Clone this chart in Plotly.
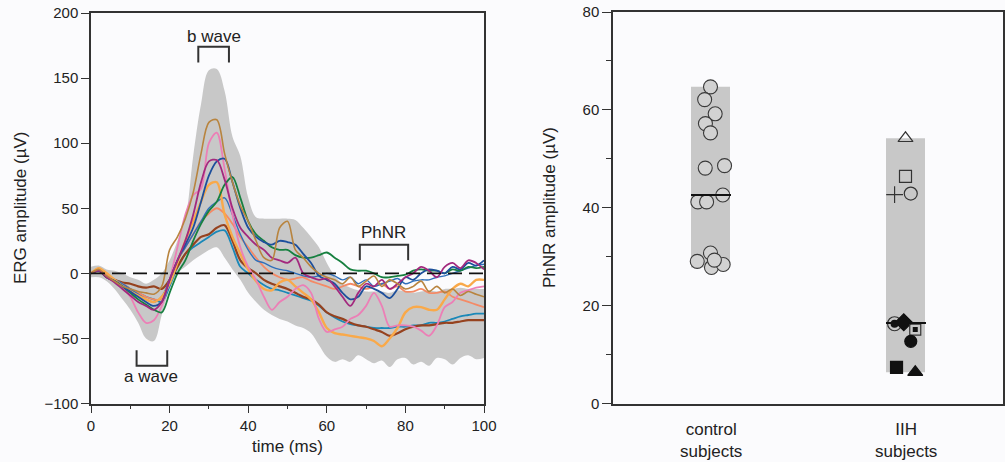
import numpy as np
import plotly.graph_objects as go

# ---------------- data ----------------
time_ms = list(range(0, 101, 2))

band_upper = [5, 6, 3, 2, 0, -3, -5, -8, -5, 0, 10, 25, 42, 90, 130, 156, 157, 140, 105, 90,
              58, 43, 42, 42, 42, 42, 41, 35, 28, 20, 8, -2, -8, -11, -13, -14, -14, -14, -15, -13,
              -14, -15, -14, -13, -14, -12, -12, -11, -12, -12, -12]
band_lower = [-3, -3, -6, -12, -20, -28, -38, -50, -52, -32, -12, 0, 5, 10, 14, 18, 20, 12, 3, -5,
              -15, -22, -28, -32, -35, -37, -40, -42, -46, -55, -64, -68, -66, -68, -63, -66, -69, -67, -72, -66,
              -65, -70, -68, -71, -65, -66, -70, -65, -63, -66, -65]

erg_tan = [0, 3, -2, -6, -10, -12, -14, -15, -16, -10, 18, 28, 42, 62, 92, 116, 118, 92, 70, 52,
           40, 25, 12, 10, 35, 40, 18, 12, 5, 0, -3, -5, -8, -3, -10, -6, -2, -10, -5, -8,
           -12, -10, -6, -14, -10, -15, -12, -17, -14, -16, -18]
erg_pink = [0, 2, -2, -6, -10, -18, -30, -38, -36, -25, -5, 20, 45, 60, 65, 100, 108, 80, 45, 20,
            5, -5, -18, -28, -22, -18, -12, -9, -15, -35, -45, -43, -41, -35, -32, -25, -15, -25, -41, -40,
            -40, -41, -44, -48, -40, -26, -22, -15, -13, -11, -10]
erg_magenta = [0, 2, -3, -7, -12, -17, -22, -25, -28, -22, -5, 10, 25, 45, 70, 86, 87, 72, 50, 35,
               28, 22, 18, 12, 10, 8, 12, 0, -3, -5, -4, -10, -18, -25, -15, -8, -10, -5, -12, -8,
               -3, 0, 5, 2, -3, 5, 8, 4, 10, 8, 3]
erg_darkblue = [0, 2, -3, -6, -10, -14, -18, -22, -25, -22, -5, 10, 22, 35, 55, 75, 86, 88, 70, 50,
                35, 28, 24, 22, 25, 24, 22, 15, 8, -2, -5, -8, -15, -20, -18, -10, -12, -15, -19, -12,
                -3, -5, 0, 3, 2, 0, 5, 3, 8, 6, 10]
erg_green = [0, 2, -3, -6, -10, -15, -20, -24, -28, -30, -15, 0, 10, 25, 38, 48, 55, 68, 74, 58,
             40, 30, 25, 20, 18, 18, 14, 12, 12, 14, 16, 12, 8, 3, 2, 2, 0, -3, -3, -2,
             -1, 2, 3, 2, 2, 0, 3, 2, 5, 4, 5]
erg_orange = [0, 4, 0, -5, -10, -14, -17, -20, -22, -18, -8, 8, 25, 40, 55, 68, 70, 45, 28, 15,
              3, -6, -12, -13, -7, -5, -10, -15, -20, -30, -42, -46, -47, -48, -49, -50, -52, -56, -50, -42,
              -30, -26, -26, -28, -28, -20, -12, -8, -10, -5, -5]
erg_salmon = [0, 3, -1, -5, -8, -12, -15, -18, -20, -20, -5, 10, 20, 30, 40, 46, 50, 46, 38, 28,
              20, 12, 5, 0, -3, -5, -4, -3, -6, -8, -10, -12, -10, -8, -10, -12, -10, -8, -12, -10,
              -14, -14, -12, -15, -15, -14, -18, -20, -22, -24, -26]
erg_brown = [0, 2, -3, -5, -7, -8, -10, -11, -10, -12, -5, 5, 15, 22, 28, 30, 35, 37, 25, 10,
             4, 0, -5, -8, -10, -12, -15, -18, -20, -24, -30, -33, -35, -38, -40, -41, -43, -45, -48, -46,
             -43, -41, -40, -40, -39, -38, -38, -37, -36, -36, -36]
erg_teal = [0, 2, -2, -5, -8, -12, -15, -18, -20, -22, -10, 5, 15, 20, 24, 28, 32, 33, 20, 5,
            0, -5, -9, -12, -13, -15, -17, -19, -21, -25, -30, -34, -37, -39, -40, -41, -42, -42, -42, -41,
            -41, -40, -40, -38, -38, -37, -35, -33, -32, -31, -31]
erg_blue = [0, 2, -2, -5, -8, -12, -16, -20, -22, -18, -5, 10, 20, 30, 40, 50, 55, 58, 45, 30,
            18, 10, 8, 5, 3, 2, 0, -2, -3, -2, 0, -2, -5, -3, -8, -5, -10, -8, -6, -4,
            -8, -6, -5, -5, -3, -2, 0, 2, 4, 6, 7]

# PhNR amplitudes (µV)
control_vals = [64.7, 62.1, 59.2, 57.2, 55.3, 48.1, 48.6, 42.6, 41.2, 41.2, 29.05, 30.75, 27.8, 28.4, 29.3]
control_jitter = [0.0, -0.03, 0.024, -0.026, 0.0, -0.027, 0.072, 0.063, -0.065, -0.02, -0.068, 0.0, 0.005, 0.065, 0.02]

iih_labels = ["open triangle", "open square", "plus", "open circle", "bullseye", "diamond",
              "dotted square", "filled circle", "filled square", "filled triangle"]
iih_vals = [54.2, 46.4, 42.7, 42.9, 16.3, 16.6, 15.1, 12.7, 7.4, 6.4]
iih_jitter = [0.0, 0.0, -0.056, 0.027, -0.056, -0.009, 0.05, 0.027, -0.046, 0.05]

group_names = ["control<br>subjects", "IIH<br>subjects"]

# ---------------- figure ----------------
FONT = "Liberation Sans, Arial, sans-serif"
TXT = "#222222"
AX = "#333333"
GRAY = "#c8c8c8"

fig = go.Figure()

# envelope band
fig.add_trace(go.Scatter(x=time_ms, y=band_lower, mode="lines", line=dict(width=0, shape="spline"),
                         showlegend=False, hoverinfo="skip", xaxis="x", yaxis="y"))
fig.add_trace(go.Scatter(x=time_ms, y=band_upper, mode="lines", line=dict(width=0, shape="spline"),
                         fill="tonexty", fillcolor=GRAY, showlegend=False, hoverinfo="skip",
                         xaxis="x", yaxis="y"))

curves = [
    (erg_teal, "#1a88b8", 1.8),
    (erg_brown, "#96421f", 2.2),
    (erg_salmon, "#f48a66", 1.8),
    (erg_blue, "#2f6fba", 1.4),
    (erg_orange, "#f9a94a", 2.4),
    (erg_pink, "#ec7fb6", 1.8),
    (erg_green, "#178040", 1.8),
    (erg_darkblue, "#1d4f9c", 1.8),
    (erg_magenta, "#a3297e", 1.8),
    (erg_tan, "#b8843f", 1.6),
]
for vals, col, w in curves:
    fig.add_trace(go.Scatter(x=time_ms, y=vals, mode="lines",
                             line=dict(color=col, width=w, shape="spline", smoothing=0.9),
                             showlegend=False, xaxis="x", yaxis="y"))

# zero dashed line
fig.add_trace(go.Scatter(x=[time_ms[0], time_ms[-1]], y=[0, 0], mode="lines",
                         line=dict(color="#111111", width=1.6, dash="14px,7px"),
                         showlegend=False, xaxis="x", yaxis="y"))

# ---------- right panel ----------
BW = 0.2
for i, vals in enumerate([control_vals, iih_vals]):
    xc = i + 1
    lo, hi = min(vals), max(vals)
    fig.add_trace(go.Bar(x=[xc], y=[hi - lo], base=[lo], width=BW, marker=dict(color=GRAY, line=dict(width=0)),
                         showlegend=False, xaxis="x2", yaxis="y2"))

cx = [1 + j for j in control_jitter]
fig.add_trace(go.Scatter(x=cx, y=control_vals, mode="markers",
                         marker=dict(symbol="circle", size=14, color="#d2d2d2",
                                     line=dict(color="#3a3a3a", width=1.1)),
                         showlegend=False, xaxis="x2", yaxis="y2"))

ix = [2 + j for j in iih_jitter]
sym = {
    "open triangle": ("triangle-up-open", 13, "#333333"),
    "open square": ("square-open", 12, "#333333"),
    "plus": ("cross-thin-open", 12, "#333333"),
    "open circle": ("circle-open", 13, "#333333"),
    "bullseye": ("circle-open", 14, "#333333"),
    "diamond": ("diamond", 13, "#111111"),
    "dotted square": ("square-open", 11, "#333333"),
    "filled circle": ("circle", 12, "#111111"),
    "filled square": ("square", 12, "#111111"),
    "filled triangle": ("triangle-up", 13, "#111111"),
}
for lab, xv, yv in zip(iih_labels, ix, iih_vals):
    s, sz, col = sym[lab]
    fig.add_trace(go.Scatter(x=[xv], y=[yv], mode="markers",
                             marker=dict(symbol=s, size=sz, color=col, line=dict(color=col, width=1.2)),
                             showlegend=False, xaxis="x2", yaxis="y2"))
    if lab == "bullseye":
        fig.add_trace(go.Scatter(x=[xv], y=[yv], mode="markers",
                                 marker=dict(symbol="circle", size=8, color="#111111"),
                                 showlegend=False, xaxis="x2", yaxis="y2"))
    if lab == "dotted square":
        fig.add_trace(go.Scatter(x=[xv], y=[yv], mode="markers",
                                 marker=dict(symbol="square", size=5, color="#111111"),
                                 showlegend=False, xaxis="x2", yaxis="y2"))

# medians
for i, vals in enumerate([control_vals, iih_vals]):
    xc = i + 1
    m = float(np.median(vals))
    fig.add_trace(go.Scatter(x=[xc - BW / 2, xc + BW / 2 + 0.005], y=[m, m], mode="lines",
                             line=dict(color="#111111", width=2), showlegend=False,
                             xaxis="x2", yaxis="y2"))

# ---------------- annotations / shapes ----------------
F17 = dict(size=17, color=TXT, family=FONT)
C = dict(showarrow=False, xanchor="center", yanchor="middle", font=F17)
ann = []
ann.append(dict(text="b wave", x=31.2, y=182, xref="x", yref="y", **C))
ann.append(dict(text="a wave", x=15.3, y=-79, xref="x", yref="y", **C))
ann.append(dict(text="PhNR", x=74.5, y=31, xref="x", yref="y", **C))
ann.append(dict(text="time (ms)", x=287 / 1005, y=1 - 446 / 462, xref="paper", yref="paper", **C))
ann.append(dict(text="ERG amplitude (µV)", x=20 / 1005, y=1 - 208 / 462, xref="paper", yref="paper",
                textangle=-90, **C))
ann.append(dict(text="PhNR amplitude (µV)", x=549 / 1005, y=1 - 208 / 462, xref="paper", yref="paper",
                textangle=-90, **C))
for i, name in enumerate(group_names):
    ann.append(dict(text=name, x=i + 1, y=1 - 440 / 462, xref="x2", yref="paper", **C))

shapes = [
    dict(type="path", path="M 27.3 162 L 27.3 174 L 35.1 174 L 35.1 162", xref="x", yref="y",
         line=dict(color=AX, width=2)),
    dict(type="path", path="M 11.6 -59 L 11.6 -71 L 19.4 -71 L 19.4 -59", xref="x", yref="y",
         line=dict(color=AX, width=2)),
    dict(type="path", path="M 68.4 10 L 68.4 22 L 80.7 22 L 80.7 10", xref="x", yref="y",
         line=dict(color=AX, width=2)),
]

axis_common = dict(showline=True, linecolor=AX, linewidth=1.5, mirror=True, showgrid=False,
                   zeroline=False, ticks="outside", tickcolor=AX, tickwidth=1.3, automargin=False,
                   tickfont=dict(size=15, color=TXT, family=FONT))

fig.update_layout(
    width=1005, height=462,
    margin=dict(l=0, r=0, t=0, b=0, autoexpand=False),
    paper_bgcolor="#fbfbfd", plot_bgcolor="#fbfbfd",
    showlegend=False, barmode="overlay",
    xaxis=dict(domain=[91 / 1005, 484 / 1005], range=[0, 100], tickvals=[0, 20, 40, 60, 80, 100],
               ticklen=8, minor=dict(dtick=10, ticklen=4, tickcolor=AX, ticks="outside"),
               anchor="y", **axis_common),
    yaxis=dict(domain=[1 - 403.5 / 462, 1 - 13 / 462], range=[-100, 200], dtick=50, ticklen=8,
               anchor="x", **axis_common),
    xaxis2=dict(domain=[613 / 1005, 1003 / 1005], range=[0.5, 2.5], showticklabels=False,
                anchor="y2", **{k: v for k, v in axis_common.items() if k != "ticks"}, ticks=""),
    yaxis2=dict(domain=[1 - 403.5 / 462, 1 - 12 / 462], range=[0, 80], dtick=20, ticklen=9,
                minor=dict(dtick=10, ticklen=5, tickcolor=AX, ticks="outside"),
                anchor="x2", **axis_common),
    annotations=ann, shapes=shapes,
)

fig.write_html("out.html")
